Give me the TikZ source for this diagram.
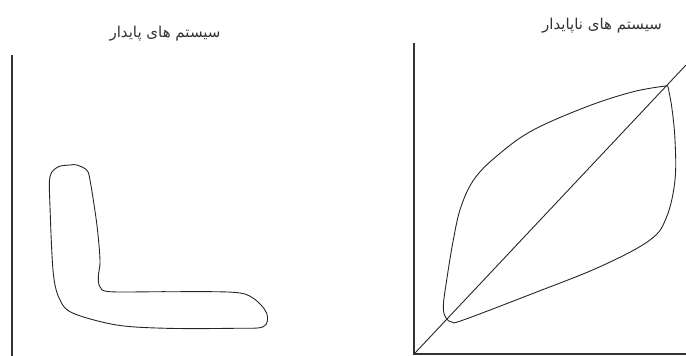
\documentclass[tikz,border=0pt]{standalone}
\usepackage{fontspec}
\newfontfamily\arabicfont[Script=Arabic]{DejaVu Sans}
\TeXXeTstate=1
\tikzset{
  axis/.style={line width=1.8pt, draw=black!80},
  curve/.style={line width=0.9pt, draw=black!85},
  title/.style={font=\arabicfont\fontsize{15}{17}\selectfont, inner sep=0pt, text=black!80}
}
\begin{document}
\begin{tikzpicture}[x=1pt,y=-1pt]
\useasboundingbox (0,0) rectangle (686,356);
% titles
\node[title] (t1) at (165,34) {\beginR سیستم های پایدار\endR};
\node[title] (t2) at (602,26) {\beginR سیستم های ناپایدار\endR};
% left axis
\draw[axis] (12,55) -- (12,356);
% L shape
\draw[curve] plot[smooth cycle, tension=0.55] coordinates {
 (70,165) (76.7,165) (86.7,170) (90,180) (96.7,223.3) (100,260) (98.3,276.7)
 (100,286.7) (110,291.7) (166.7,291.7) (233.3,292.3) (253.3,298.3) (266.7,313.3)
 (263.3,326.7) (233.3,328.3) (166.7,328.3) (116.7,325) (73.3,313.3) (60,300)
 (53.3,273.3) (50,206.7) (50,176.7) (58,167)};
% right axes
\draw[axis] (414,43) -- (414,354) -- (686,354);
\coordinate (o) at (415,353);
\coordinate (e) at (686,65);
\draw[curve] (o) -- (e);
% leaf
\draw[curve] plot[smooth, tension=0.6] coordinates {
 (667.7,85.7) (633.3,91.7) (586.7,106.7) (533.3,130) (500,153.3) (475,178)
 (461,206.7) (453.3,240) (446.7,280) (443.3,306.7) (446,318) (452,322) (463.3,320)
 (533.3,293.3) (600,266.7) (650,240) (666.7,216.7) (675,180) (675,140) (671.7,106.7) (667.7,85.7)};
\end{tikzpicture}
\end{document}
